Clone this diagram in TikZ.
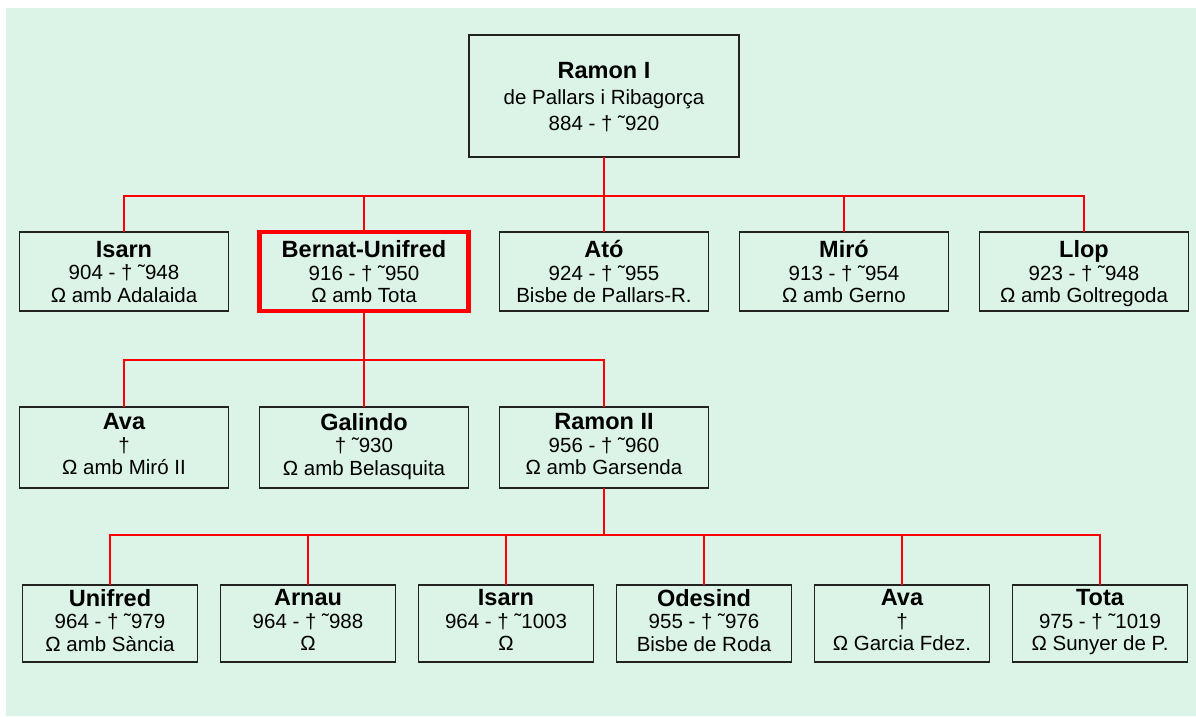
\documentclass[tikz,border=0pt]{standalone}
\usepackage{fontspec}
\setmainfont{Liberation Sans}
\usetikzlibrary{positioning}
\definecolor{bgmint}{HTML}{DCF3E7}
\definecolor{boxline}{HTML}{222222}
\tikzset{
  person/.style={draw=boxline, line width=1.5pt, align=center,
                 inner sep=0pt, outer sep=0pt,
                 minimum width=209pt, minimum height=79pt,
                 font=\fontsize{20.5}{22.5}\selectfont},
  grandchild/.style={person, minimum width=175pt, minimum height=77pt},
  founder/.style={person, minimum width=270pt, minimum height=122pt,
                  font=\fontsize{20.5}{26}\selectfont},
  chosen/.style={draw=red, line width=4.5pt},
  link/.style={draw=red, line width=1.6pt},
}
\newcommand{\pname}[1]{{\fontsize{23.5}{22.5}\selectfont\bfseries\strut #1}}
\newcommand{\pinfo}[3]{\pname{#1}\\ #2\\ #3\strut}
\newcommand{\pinfoflat}[3]{\pname{#1}\\ #2\\ \smash{#3}}

\begin{document}
\begin{tikzpicture}[x=1pt, y=1pt]

\useasboundingbox (0,0) rectangle (1196,716);
\fill[bgmint] (6,0) rectangle (1196,708);

%% ====================  FOUNDER  ====================

\node[founder] (ramon) at (604,620)
  {\pinfoflat{Ramon I}{de Pallars i Ribagorça}{884 - † ˜920}};

%% ====================  CHILDREN  ====================

\node[person, below=75pt of ramon] (ato)
  {\pinfoflat{Ató}{924 - † ˜955}{Bisbe de Pallars-R.}};
\node[person, chosen, left=31pt of ato] (bernat)
  {\pinfoflat{Bernat-Unifred}{916 - † ˜950}{Ω amb Tota}};
\node[person, left=31pt of bernat] (isarn)
  {\pinfoflat{Isarn}{904 - † ˜948}{Ω amb Adalaida}};
\node[person, right=31pt of ato] (miro)
  {\pinfoflat{Miró}{913 - † ˜954}{Ω amb Gerno}};
\node[person, right=31pt of miro] (llop)
  {\pinfoflat{Llop}{923 - † ˜948}{Ω amb Goltregoda}};

%% ====================  GRANDCHILDREN  ====================

\node[person, minimum height=81pt, below=96pt of isarn] (ava)
  {\pinfo{Ava}{†}{Ω amb Miró II}};
\node[person, minimum height=81pt, below=96pt of bernat] (galindo)
  {\pinfo{Galindo}{† ˜930}{Ω amb Belasquita}};
\node[person, minimum height=81pt, below=96pt of ato] (ramonii)
  {\pinfo{Ramon II}{956 - † ˜960}{Ω amb Garsenda}};

%% ====================  GREAT-GRANDCHILDREN  ====================

\node[grandchild] (unifred) at (110,92.5)
  {\pinfo{Unifred}{964 - † ˜979}{Ω amb Sància}};
\node[grandchild, right=23pt of unifred] (arnau)
  {\pinfo{Arnau}{964 - † ˜988}{Ω}};
\node[grandchild, right=23pt of arnau] (isarnii)
  {\pinfo{Isarn}{964 - † ˜1003}{Ω}};
\node[grandchild, right=23pt of isarnii] (odesind)
  {\pinfo{Odesind}{955 - † ˜976}{Bisbe de Roda}};
\node[grandchild, right=23pt of odesind] (avaii)
  {\pinfo{Ava}{†}{Ω Garcia Fdez.}};
\node[grandchild, right=23pt of avaii] (tota)
  {\pinfo{Tota}{975 - † ˜1019}{Ω Sunyer de P.}};

%% ====================  LINKS  ====================

\foreach \kid in {isarn,bernat,ato,miro,llop}
  \draw[link] (ramon.south) -- ++(0,-39) -| (\kid.north);
\foreach \kid in {ava,galindo,ramonii}
  \draw[link] (bernat.south) -- ++(0,-49) -| (\kid.north);
\foreach \kid in {unifred,arnau,isarnii,odesind,avaii,tota}
  \draw[link] (ramonii.south) -- ++(0,-47) -| (\kid.north);

\end{tikzpicture}
\end{document}
